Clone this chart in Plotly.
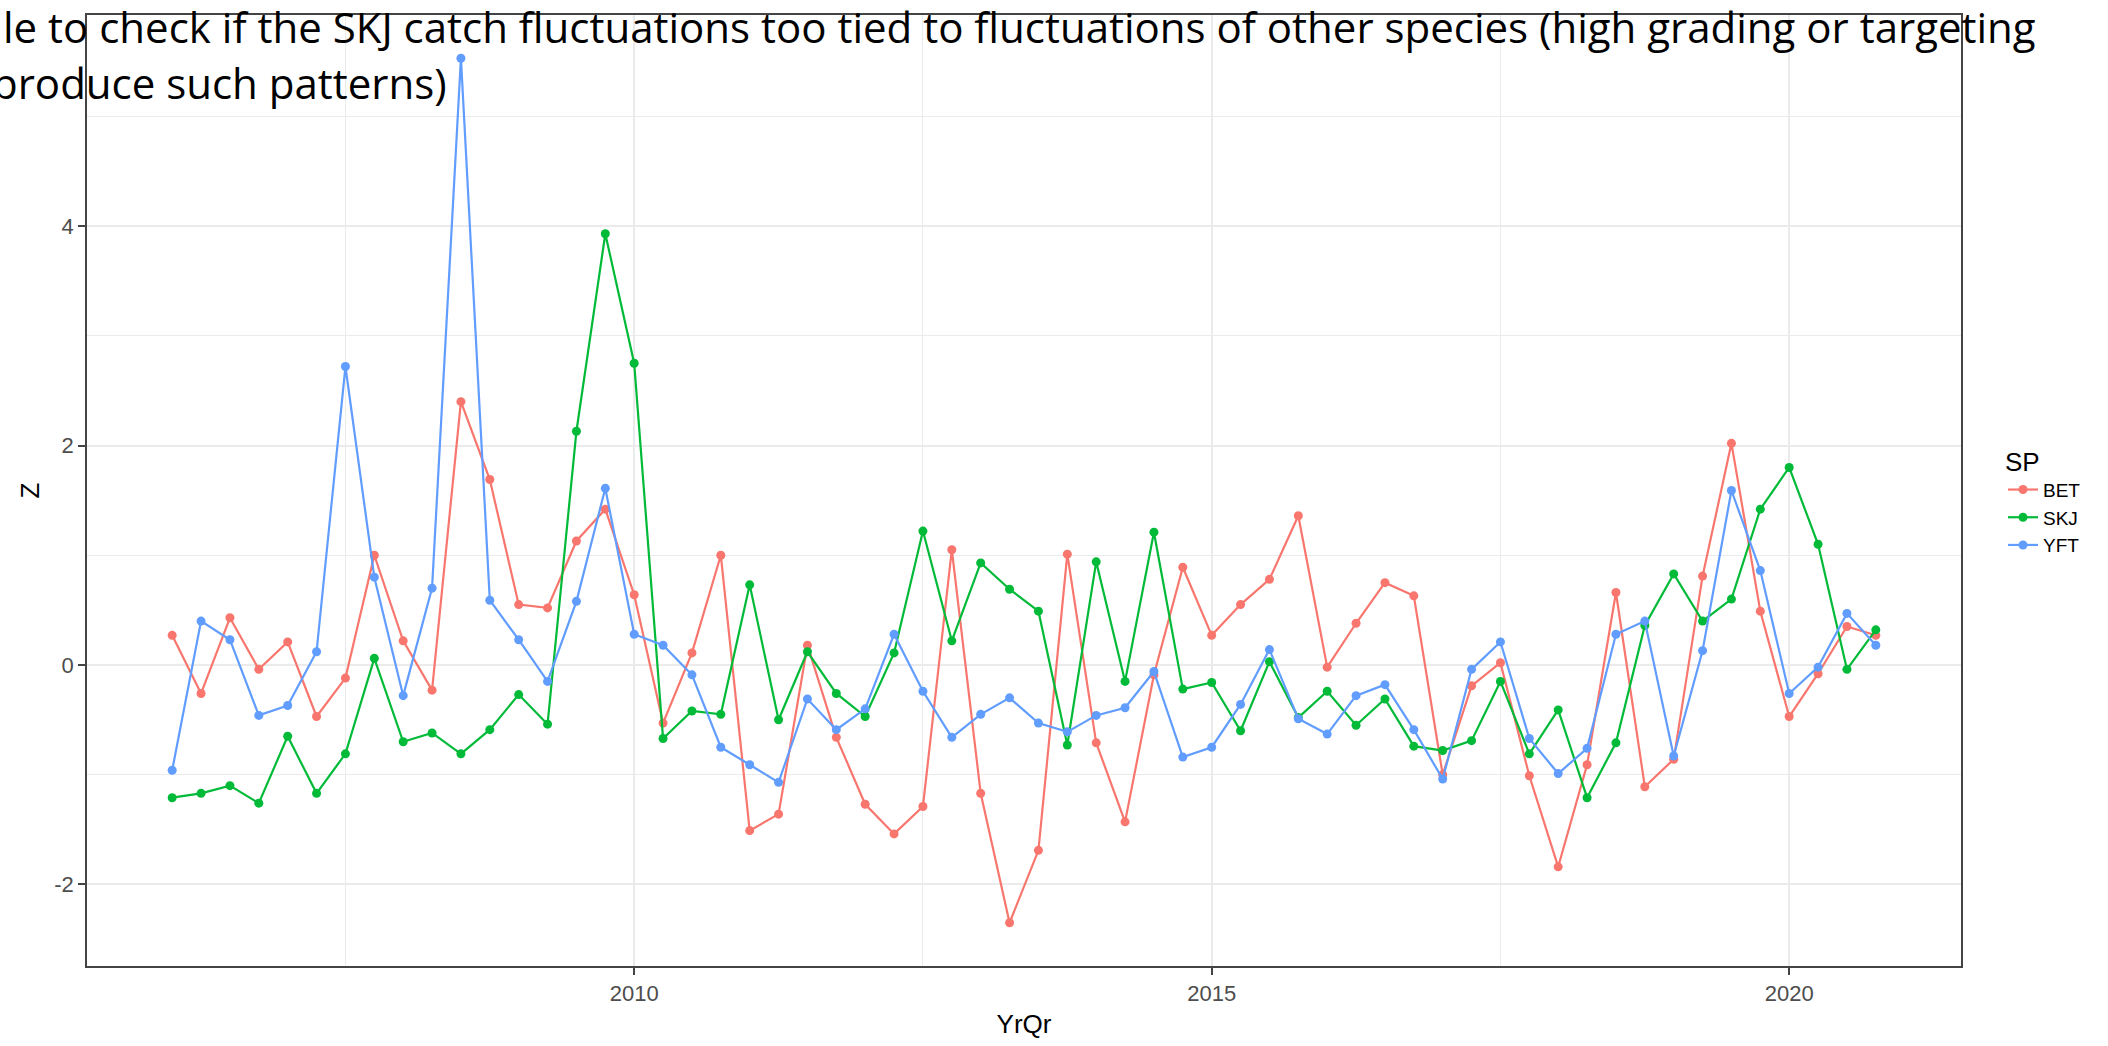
import plotly.graph_objects as go

# Quarterly time axis (year + quarter fraction)
years = list(range(2006, 2021))
quarter_offsets = [0.0, 0.25, 0.5, 0.75]
yrqr = [y + q for y in years for q in quarter_offsets]

# Standardised catch anomalies (Z) by species
bet = [0.27, -0.26, 0.43, -0.04, 0.21, -0.47, -0.12, 1.00, 0.22, -0.23, 2.40, 1.69, 0.55,
       0.52, 1.13, 1.42, 0.64, -0.53, 0.11, 1.00, -1.51, -1.36, 0.18, -0.66, -1.27, -1.54, -1.29,
       1.05, -1.17, -2.35, -1.69, 1.01, -0.71, -1.43, -0.09, 0.89, 0.27, 0.55, 0.78, 1.36, -0.02, 0.38,
       0.75, 0.63, -1.00, -0.19, 0.02, -1.01, -1.84, -0.91, 0.66, -1.11, -0.86, 0.81, 2.02, 0.49,
       -0.47, -0.08, 0.35, 0.27]
skj = [-1.21, -1.17, -1.10, -1.26, -0.65, -1.17, -0.81, 0.06, -0.70, -0.62, -0.81, -0.59, -0.27,
       -0.54, 2.13, 3.93, 2.75, -0.67, -0.42, -0.45, 0.73, -0.50, 0.12, -0.26, -0.47, 0.11, 1.22,
       0.22, 0.93, 0.69, 0.49, -0.73, 0.94, -0.15, 1.21, -0.22, -0.16, -0.60, 0.03, -0.48, -0.24, -0.55,
       -0.31, -0.74, -0.78, -0.69, -0.15, -0.81, -0.41, -1.21, -0.71, 0.36, 0.83, 0.40, 0.60, 1.42,
       1.80, 1.10, -0.04, 0.32]
yft = [-0.96, 0.40, 0.23, -0.46, -0.37, 0.12, 2.72, 0.80, -0.28, 0.70, 5.53, 0.59, 0.23,
       -0.15, 0.58, 1.61, 0.28, 0.18, -0.09, -0.75, -0.91, -1.07, -0.31, -0.59, -0.40, 0.28, -0.24,
       -0.66, -0.45, -0.30, -0.53, -0.61, -0.46, -0.39, -0.06, -0.84, -0.75, -0.36, 0.14, -0.49, -0.63, -0.28,
       -0.18, -0.59, -1.04, -0.04, 0.21, -0.67, -0.99, -0.76, 0.28, 0.40, -0.83, 0.13, 1.59, 0.86,
       -0.26, -0.02, 0.47, 0.18]

species = ["BET", "SKJ", "YFT"]
series = [bet, skj, yft]
colors = ["#F8766D", "#00BA38", "#619CFF"]

x_ticks = [2010, 2015, 2020]
y_ticks = [-2, 0, 2, 4]

title_line1 = "le to check if the SKJ catch fluctuations too tied to fluctuations of other species (high grading or targeting"
title_line2 = "produce such patterns)"

W, H = 2108, 1046
ML, MR, MT, MB = 87, 147, 15, 73
PW, PH = W - ML - MR, H - MT - MB

# ggplot-style 5% expansion of the data range
def expand(vals, frac=0.05):
    lo, hi = min(vals), max(vals)
    pad = (hi - lo) * frac
    return [lo - pad, hi + pad]

all_z = bet + skj + yft
x_range = expand(yrqr)
y_range = expand(all_z)

fig = go.Figure()
for name, vals, col in zip(species, series, colors):
    fig.add_trace(go.Scatter(
        x=yrqr, y=vals, name=name, mode="lines+markers",
        line=dict(color=col, width=2.2),
        marker=dict(color=col, size=9),
    ))

sans = "Liberation Sans, Arial, sans-serif"
axis_font = dict(family=sans, size=22, color="#4D4D4D")
title_font = dict(family=sans, size=26, color="black")

fig.update_layout(
    width=W, height=H,
    margin=dict(l=ML, r=MR, t=MT, b=MB, pad=0),
    paper_bgcolor="white", plot_bgcolor="white",
    showlegend=True,
    legend=dict(
        title=dict(text="SP", font=title_font),
        font=dict(family=sans, size=19, color="black"),
        x=(2003 - ML) / PW, xanchor="left",
        y=1 - (440 - MT) / PH, yanchor="top",
        bgcolor="rgba(0,0,0,0)", borderwidth=0, tracegroupgap=0,
    ),
    xaxis=dict(
        range=x_range, tickmode="array", tickvals=x_ticks, ticktext=[str(t) for t in x_ticks],
        showgrid=True, gridcolor="#EBEBEB", gridwidth=2,
        minor=dict(tickmode="array", tickvals=[2007.5, 2012.5, 2017.5], showgrid=True,
                   gridcolor="#EBEBEB", gridwidth=1, ticklen=0),
        showline=True, linecolor="#444444", linewidth=1.6, mirror=True,
        ticks="outside", ticklen=7, tickwidth=1.5, tickcolor="#444444",
        tickfont=axis_font, zeroline=False,
        title=dict(text="YrQr", font=title_font, standoff=10),
    ),
    yaxis=dict(
        range=y_range, tickmode="array", tickvals=y_ticks, ticktext=[str(t) for t in y_ticks],
        showgrid=True, gridcolor="#EBEBEB", gridwidth=2,
        minor=dict(tickmode="array", tickvals=[-1, 1, 3, 5], showgrid=True,
                   gridcolor="#EBEBEB", gridwidth=1, ticklen=0),
        showline=True, linecolor="#444444", linewidth=1.6, mirror=True,
        ticks="outside", ticklen=7, tickwidth=1.5, tickcolor="#444444",
        tickfont=axis_font, zeroline=False,
        title=dict(text="Z", font=title_font, standoff=7),
    ),
)

# Overlaid slide caption (two lines, left part runs off the page)
cap_font = dict(family="Open Sans, Lato, sans-serif", size=42, color="black")
fig.add_annotation(text=title_line1, xref="paper", yref="paper",
                   x=(1 - ML) / PW, y=1 - (27 - MT) / PH, xanchor="left", yanchor="middle",
                   showarrow=False, font=cap_font)
fig.add_annotation(text=title_line2, xref="paper", yref="paper",
                   x=(-10 - ML) / PW, y=1 - (83 - MT) / PH, xanchor="left", yanchor="middle",
                   showarrow=False, font=cap_font)

fig.write_html("out.html")
